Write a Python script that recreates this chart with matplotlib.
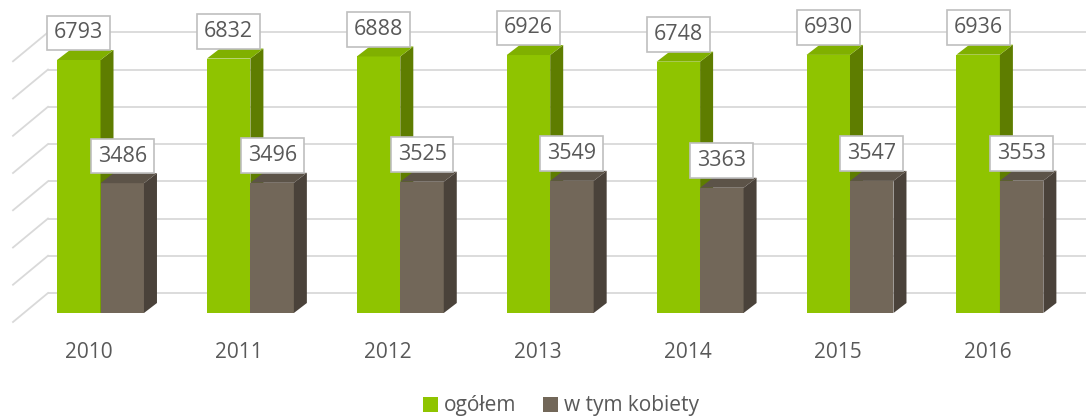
import numpy as np
import matplotlib
matplotlib.use("Agg")
import matplotlib.pyplot as plt
from matplotlib.patches import Polygon, Patch

plt.rcParams['font.family'] = ['Open Sans', 'DejaVu Sans']

years = ["2010", "2011", "2012", "2013", "2014", "2015", "2016"]
ogolem = [6793, 6832, 6888, 6926, 6748, 6930, 6936]
kobiety = [3486, 3496, 3525, 3549, 3363, 3547, 3553]
series_names = ["ogółem", "w tym kobiety"]
grid_values = np.arange(0, 8000, 1000)

# colours: front, side, top
green = ("#8FC400", "#5E7D00", "#80B000")
brown = ("#726759", "#4A423A", "#5C5348")
text_color = "#595959"

W, H = 1086, 418
fig = plt.figure(figsize=(W / 100, H / 100), dpi=100)
ax = fig.add_axes([0, 0, 1, 1])
ax.axis("off")

# scale: 149.9 px per category, 26.85 value units per px
px_cat = 149.9
val_px = 26.85
x_left = -100.5 / px_cat
ax.set_xlim(x_left, x_left + W / px_cat)
ax.set_ylim(-105 * val_px, (H - 105) * val_px)

bar_w = 0.29
dx = 13 / px_cat
dy = 10 * val_px

# back wall and side wall gridlines
back_dy = 20 * val_px
wall_x0 = (48 - 100.5) / px_cat
side_x0 = (13 - 100.5) / px_cat
side_dy = -9 * val_px
for v in grid_values:
    ax.plot([wall_x0, x_left + W / px_cat], [v + back_dy, v + back_dy],
            color="#D9D9D9", lw=1.3, zorder=1, solid_capstyle="butt")
    ax.plot([side_x0, wall_x0], [v + side_dy, v + back_dy],
            color="#D9D9D9", lw=1.3, zorder=1)


def draw_bar(x0, value, colors, z):
    front, side, top = colors
    x1 = x0 + bar_w
    ax.bar(x0, value, width=bar_w, align="edge", color=front, zorder=z)
    ax.add_patch(Polygon([(x1, 0), (x1 + dx, dy), (x1 + dx, value + dy), (x1, value)],
                         closed=True, facecolor=side, edgecolor="none", zorder=z))
    ax.add_patch(Polygon([(x0, value), (x1, value), (x1 + dx, value + dy), (x0 + dx, value + dy)],
                         closed=True, facecolor=top, edgecolor="none", zorder=z))


def label(xc, value):
    ax.annotate(str(value), xy=(xc, value), xytext=(0, 19.5), textcoords="offset points",
                ha="center", va="center", fontsize=15.5, color=text_color, zorder=20,
                bbox=dict(boxstyle="square,pad=0.32", facecolor="white",
                          edgecolor="#BFBFBF", linewidth=1.2))


for i, (g, b) in enumerate(zip(ogolem, kobiety)):
    draw_bar(i - bar_w, g, green, 3 + 2 * i)
    draw_bar(i, b, brown, 4 + 2 * i)
    label(i - bar_w / 2, g)
    label(i + bar_w / 2, b)
    ax.annotate(years[i], xy=(i - 12 / px_cat, 0), xytext=(0, -28.5), textcoords="offset points",
                ha="center", va="center", fontsize=15, color=text_color)

handles = [Patch(facecolor=green[0]), Patch(facecolor=brown[0])]
fig.legend(handles, series_names, loc="center", bbox_to_anchor=(561 / W, 12 / H), ncol=2,
           frameon=False, fontsize=15, labelcolor=text_color, handlelength=0.7,
           handleheight=0.7, handletextpad=0.3, columnspacing=1.3, borderpad=0.2)

fig.savefig("out.png", dpi=100)
